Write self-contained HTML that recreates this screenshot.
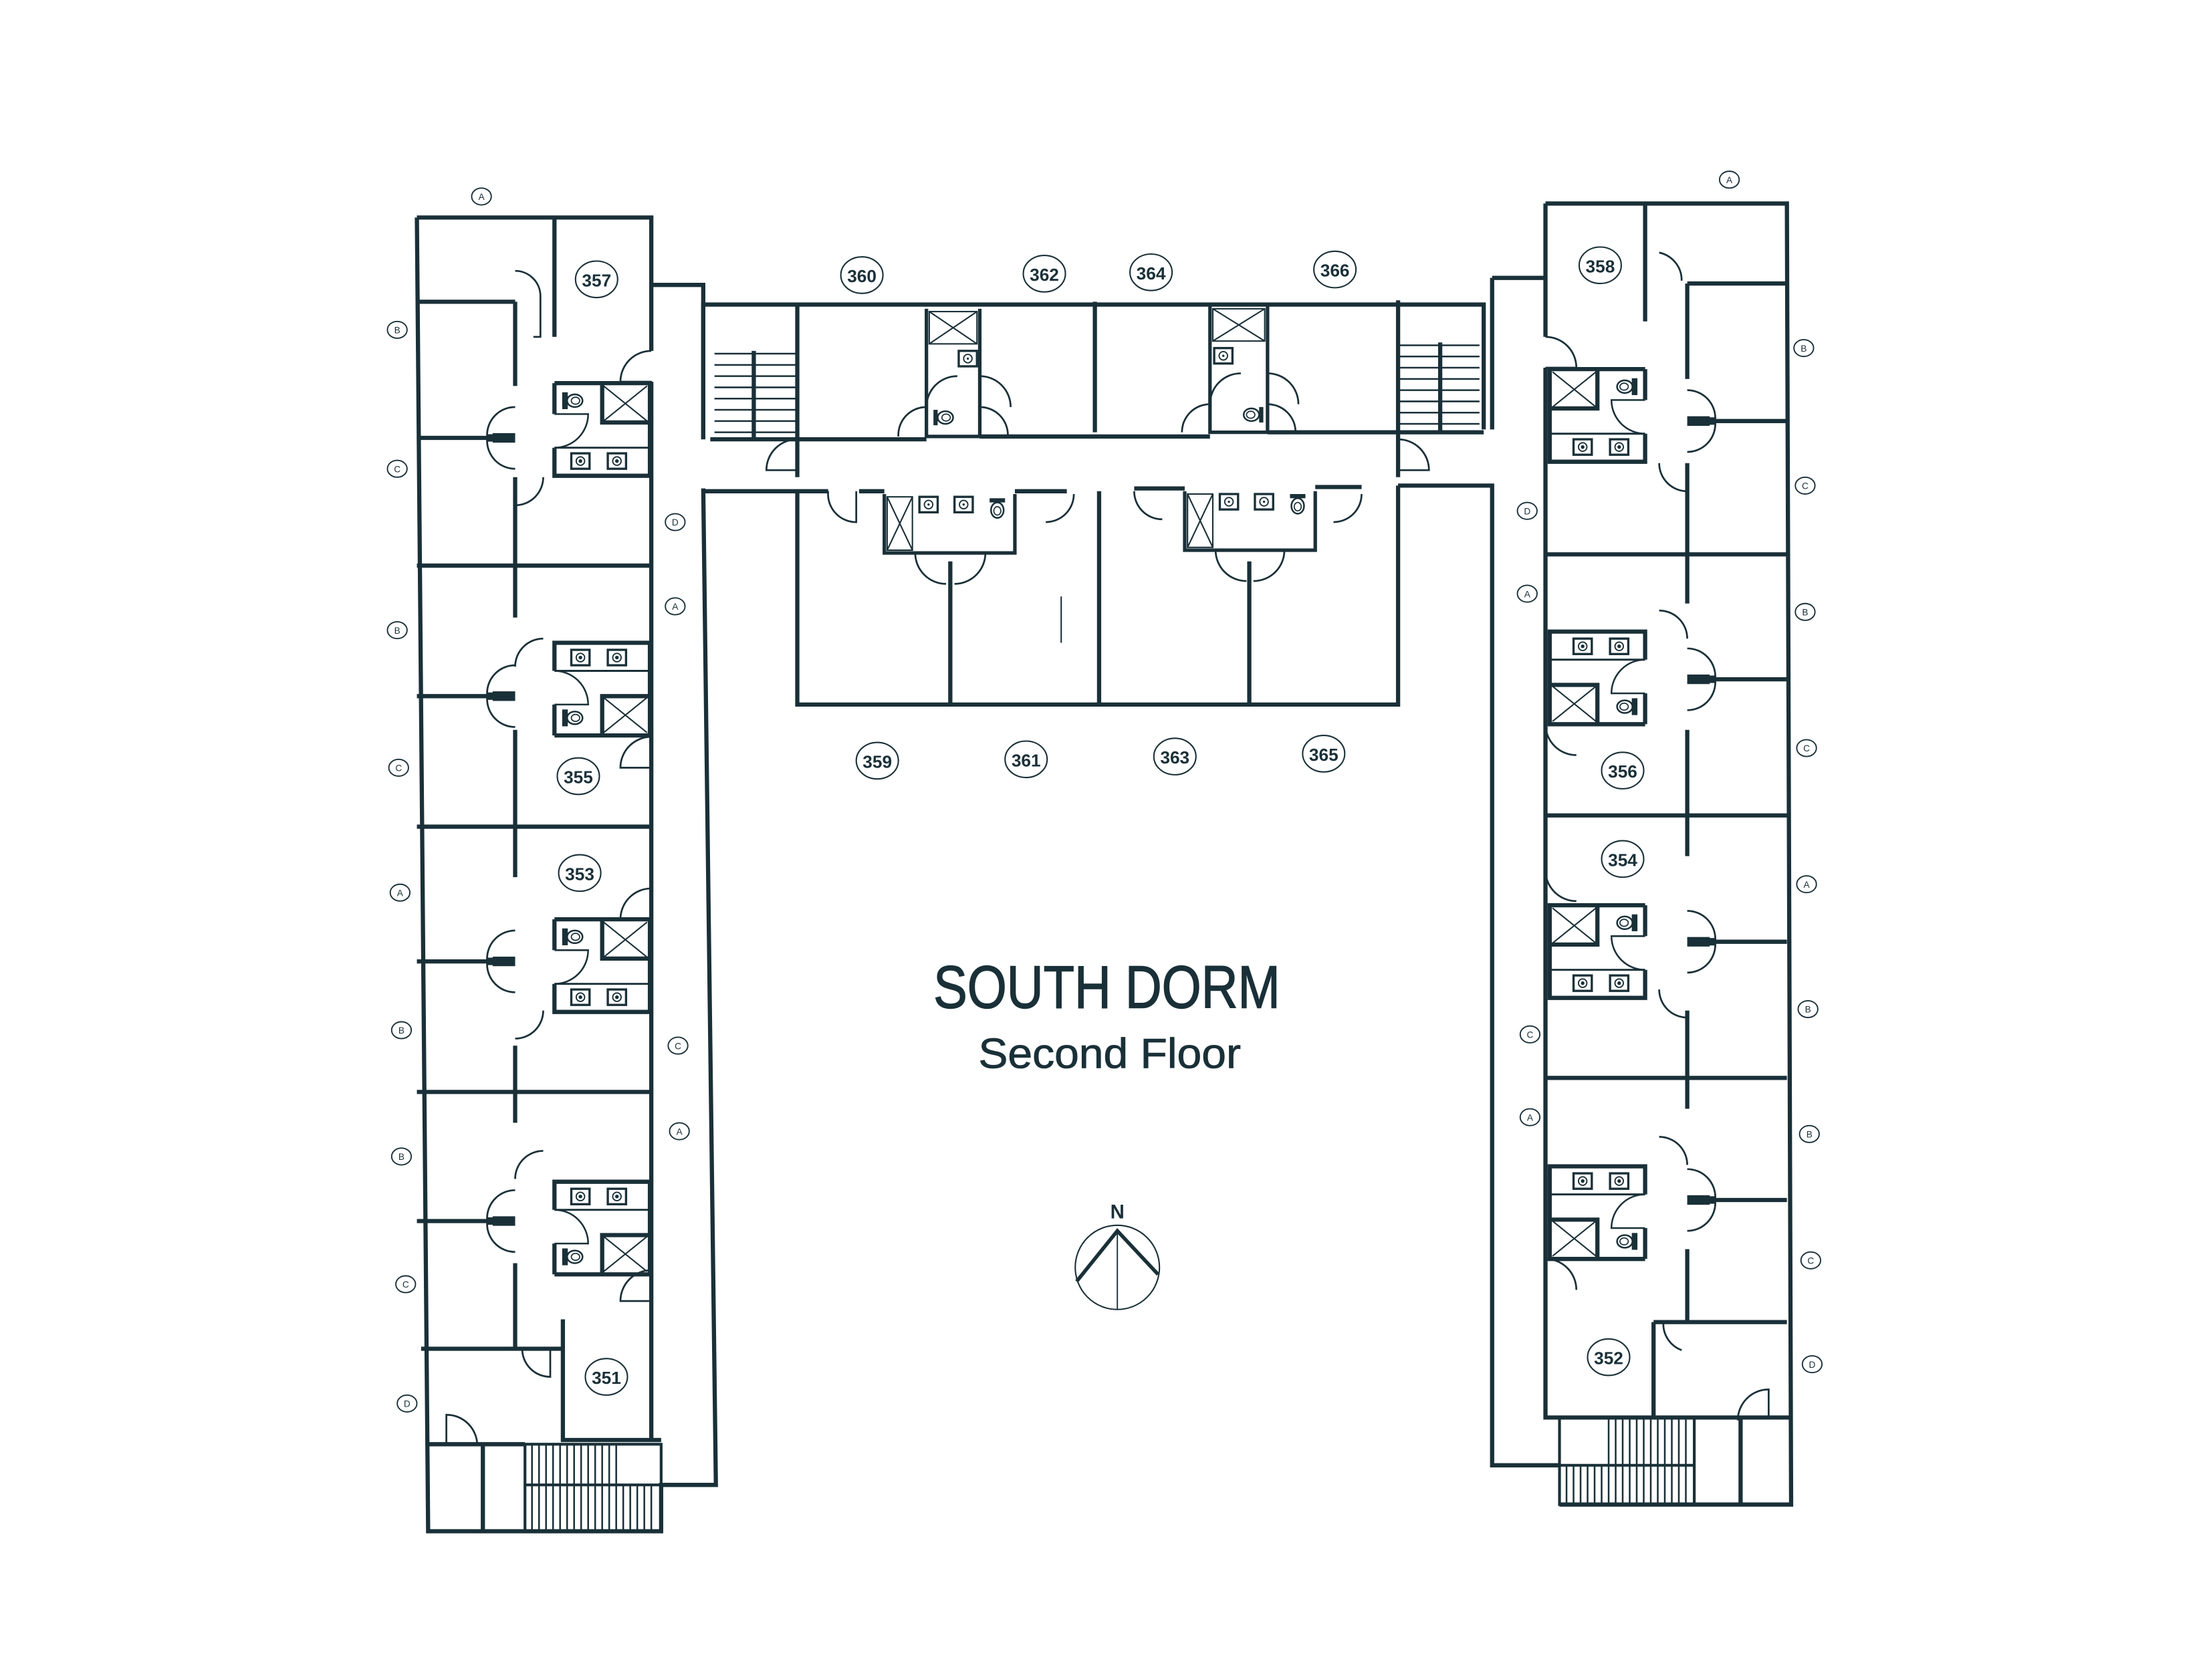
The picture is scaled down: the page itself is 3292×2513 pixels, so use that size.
<!DOCTYPE html>
<html><head><meta charset="utf-8"><style>
html,body{margin:0;padding:0;background:#fff;}
svg{display:block;}
text{font-family:"Liberation Sans",sans-serif;fill:#1a3038;}
</style></head><body>
<svg width="3292" height="2513" viewBox="0 0 1568 1197" preserveAspectRatio="none" xmlns="http://www.w3.org/2000/svg">
<defs>
<g id="sk"><rect x="0" y="0" width="13" height="11" fill="none" stroke="#1a3038" stroke-width="1.6"/><circle cx="6.5" cy="5.5" r="3" fill="none" stroke="#1a3038" stroke-width="0.9"/><circle cx="6.5" cy="5.5" r="0.8" fill="#1a3038"/></g>
<g id="tl"><rect x="0" y="0" width="3" height="11" fill="#1a3038"/><ellipse cx="8.5" cy="5.5" rx="5.5" ry="4.5" fill="none" stroke="#1a3038" stroke-width="1.2"/><ellipse cx="9" cy="5.5" rx="3" ry="2.5" fill="none" stroke="#1a3038" stroke-width="0.8"/></g>
<g id="bath" fill="none" stroke="#1a3038">
  <path d="M0 0H68V66H0V46 M0 0V22" stroke-width="3"/>
  <path d="M0 46H68" stroke-width="1.4"/>
  <path d="M34 0V28H67" stroke-width="3"/>
  <path d="M35 2L66 27 M66 2L35 27" stroke-width="1"/>
  <path d="M0 22H24A24 24 0 0 1 0 46" stroke-width="1.2"/>
  <use href="#tl" x="6" y="7"/>
  <use href="#sk" x="12" y="50"/>
  <use href="#sk" x="38" y="50"/>
</g>
<g id="dd" fill="none" stroke="#1a3038" stroke-width="1.3">
  <path d="M0 -2H-20A20 20 0 0 1 0 -22"/>
  <path d="M0 2H-20A20 20 0 0 0 0 22"/>
  <path d="M0 -2.5H-16M0 2.5H-16" stroke-width="1.8"/>
</g>
</defs>

<g fill="none" stroke="#1a3038" stroke-width="3" stroke-linejoin="miter">
<path d="M297 155H464V250 M464 272V1026 M297 155L305 1091H471V1058H510L501 348"/>
<path d="M464 203H501V313"/>
<path d="M367 215V275 M367 340V440 M367 520V625 M367 745V800 M367 900V961" />
<path d="M297 215H367 M297 312H367 M297 403H464 M297 496H367 M297 589H464 M297 685H367 M297 778H464 M297 870H367 M300 961H401"/>
<path d="M395 155V240"/>
<path d="M401 940V1026H471"/>
<path d="M305 1029H374 M344 1029V1091"/>
<rect x="374" y="1029" width="97" height="62" stroke-width="2"/>
<path d="M374 1058H471" stroke-width="2"/>
<path d="M501 313V217H1057V306 M506 313H660 M698 311H862 M903 308H1057"/>
<path d="M568 217V340 M780 215V308 M996 214V340"/>
<path d="M501 350H590 M612 350H630 M723 350H760 M808 348H844 M937 347H970 M996 346H1063V1044H1111"/>
<path d="M568 350V502H996V346 M677 400V502 M783 350V502 M890 400V502"/>
<path d="M660 220V311H698V220 M862 218V308H903V218" stroke-width="2.5"/>
<path d="M630 352V394H723V352 M844 350V392H937V350" stroke-width="2.5"/>
<path d="M1101 145H1273L1276 1072H1111 M1101 145V240 M1101 262V1010H1178 M1063 198H1101 M1063 198V306"/>
<path d="M1172 145V229 M1202 202V270 M1202 330V430 M1202 520V610 M1202 720V790 M1202 890V942"/>
<path d="M1202 202H1273 M1202 300H1273 M1101 395H1273 M1202 484H1273 M1101 581H1273 M1202 671H1273 M1101 768H1273 M1202 855H1273 M1178 942H1273"/>
<path d="M1178 942V1010H1276 M1240 1010V1072"/>
<rect x="1111" y="1010" width="96" height="62" stroke-width="2"/>
<path d="M1111 1044H1207" stroke-width="2"/>
</g>

<g stroke="#1a3038" stroke-width="1.2">
<path d="M509 252H537M509 260H537M509 268H537M509 276H537M509 284H537M509 292H537M509 300H537M509 308H537 M537 252H568M537 260H568M537 268H568M537 276H568M537 284H568M537 292H568M537 300H568M537 308H568"/>
<path d="M537 250V313" stroke-width="3"/>
<path d="M996 246H1026M996 254H1026M996 262H1026M996 270H1026M996 278H1026M996 286H1026M996 294H1026M996 302H1026 M1026 246H1054M1026 254H1054M1026 262H1054M1026 270H1054M1026 278H1054M1026 286H1054M1026 294H1054M1026 302H1054"/>
<path d="M1026 244V308" stroke-width="3"/>
<path d="M379 1029V1091M384 1029V1091M389 1029V1091M394 1029V1091M399 1029V1091M404 1029V1091M409 1029V1091M414 1029V1091M419 1029V1091M424 1029V1091M429 1029V1091M434 1029V1091M439 1029V1091M444 1058V1091M449 1058V1091M454 1058V1091M459 1058V1091M464 1058V1091"/>
<path d="M1116 1044V1072M1121 1044V1072M1126 1044V1072M1131 1044V1072M1136 1044V1072M1141 1044V1072M1146 1010V1072M1151 1010V1072M1156 1010V1072M1161 1010V1072M1166 1010V1072M1171 1010V1072M1176 1010V1072M1181 1010V1072M1186 1010V1072M1191 1010V1072M1196 1010V1072M1201 1010V1072"/>
</g>

<use href="#bath" transform="translate(395,273)"/>
<use href="#bath" transform="translate(395,524) scale(1,-1)"/>
<use href="#bath" transform="translate(395,655)"/>
<use href="#bath" transform="translate(395,908) scale(1,-1)"/>
<use href="#bath" transform="translate(1172,263) scale(-1,1)"/>
<use href="#bath" transform="translate(1172,516) scale(-1,1) scale(1,-1)"/>
<use href="#bath" transform="translate(1172,645) scale(-1,1)"/>
<use href="#bath" transform="translate(1172,897) scale(-1,1) scale(1,-1)"/>

<use href="#dd" transform="translate(367,312)"/>
<use href="#dd" transform="translate(367,496)"/>
<use href="#dd" transform="translate(367,685)"/>
<use href="#dd" transform="translate(367,870)"/>
<use href="#dd" transform="translate(1202,300) scale(-1,1)"/>
<use href="#dd" transform="translate(1202,484) scale(-1,1)"/>
<use href="#dd" transform="translate(1202,671) scale(-1,1)"/>
<use href="#dd" transform="translate(1202,855) scale(-1,1)"/>

<g fill="none" stroke="#1a3038" stroke-width="1.3">
<path d="M464 250A22 22 0 0 0 442 272H464"/>
<path d="M367 193A18 18 0 0 1 385 211V240H380"/>
<path d="M367 360A20 20 0 0 0 387 340"/>
<path d="M387 455A20 20 0 0 0 367 475"/>
<path d="M464 525A22 22 0 0 0 442 547H464"/>
<path d="M464 633A22 22 0 0 0 442 655H464"/>
<path d="M367 740A20 20 0 0 0 387 720"/>
<path d="M387 820A20 20 0 0 0 367 840"/>
<path d="M464 905A22 22 0 0 0 442 927H464"/>
<path d="M372 961A20 20 0 0 0 392 981V961"/>
<path d="M318 1029V1008A22 22 0 0 1 340 1030"/>
<path d="M1101 240A22 22 0 0 1 1123 262H1101"/>
<path d="M1182 180A20 20 0 0 1 1198 200"/>
<path d="M1202 350A20 20 0 0 1 1182 330"/>
<path d="M1182 435A20 20 0 0 1 1202 455"/>
<path d="M1101 516A22 22 0 0 0 1123 538"/>
<path d="M1101 620A22 22 0 0 0 1123 642"/>
<path d="M1202 725A20 20 0 0 1 1182 705"/>
<path d="M1182 810A20 20 0 0 1 1202 830"/>
<path d="M1101 897A22 22 0 0 1 1123 919"/>
<path d="M1185 942A20 20 0 0 0 1198 962"/>
<path d="M1260 1010V990A22 22 0 0 0 1238 1012"/>
<path d="M568 313A22 22 0 0 0 546 335H568"/>
<path d="M996 313A22 22 0 0 1 1018 335H996"/>
<path d="M590 350A20 20 0 0 0 610 372V350"/>
<path d="M745 372A20 20 0 0 0 765 352"/>
<path d="M808 350A20 20 0 0 0 828 370"/>
<path d="M950 372A20 20 0 0 0 970 352"/>
<path d="M660 290A22 22 0 0 1 682 268 M698 268A22 22 0 0 1 720 290 M640 311A20 20 0 0 1 660 290 M718 311A20 20 0 0 0 698 290"/>
<path d="M862 288A22 22 0 0 1 884 266 M903 266A22 22 0 0 1 925 288 M842 308A20 20 0 0 1 862 288 M923 308A20 20 0 0 0 903 288"/>
<path d="M652 394A22 22 0 0 0 674 416 M680 416A22 22 0 0 0 702 394"/>
<path d="M866 392A22 22 0 0 0 888 414 M893 414A22 22 0 0 0 915 392"/>
<path d="M756 425V458" stroke-width="1"/>
</g>
<g stroke="#1a3038" stroke-width="1"><path d="M662 222L696 245M696 222L662 245 M864 220L901 243M901 220L864 243 M632 354L650 392M650 354L632 392 M846 352L864 390M864 352L846 390"/>
<rect x="662" y="222" width="34" height="23" fill="none"/><rect x="864" y="220" width="37" height="23" fill="none"/>
<rect x="632" y="354" width="18" height="38" fill="none"/><rect x="846" y="352" width="18" height="38" fill="none"/></g>
<use href="#sk" x="655" y="354"/><use href="#sk" x="680" y="354"/><use href="#sk" x="869" y="352"/><use href="#sk" x="894" y="352"/>
<use href="#sk" x="683" y="250"/><use href="#sk" x="865" y="248"/>
<use href="#tl" transform="translate(665,292)"/><use href="#tl" transform="translate(900,290) scale(-1,1)"/>
<use href="#tl" transform="translate(705,355) rotate(90) translate(0,-11)"/><use href="#tl" transform="translate(919,352) rotate(90) translate(0,-11)"/>

<g fill="none" stroke="#1a3038" stroke-width="1">
<ellipse cx="425" cy="199" rx="15" ry="13"/><ellipse cx="614" cy="196" rx="15" ry="13"/><ellipse cx="744" cy="195" rx="15" ry="13"/><ellipse cx="820" cy="194" rx="15" ry="13"/><ellipse cx="951" cy="192" rx="15" ry="13"/><ellipse cx="1140" cy="189" rx="15" ry="13"/>
<ellipse cx="412" cy="553" rx="15" ry="13"/><ellipse cx="413" cy="622" rx="15" ry="13"/><ellipse cx="432" cy="981" rx="15" ry="13"/>
<ellipse cx="625" cy="542" rx="15" ry="13"/><ellipse cx="731" cy="541" rx="15" ry="13"/><ellipse cx="837" cy="539" rx="15" ry="13"/><ellipse cx="943" cy="537" rx="15" ry="13"/>
<ellipse cx="1156" cy="549" rx="15" ry="13"/><ellipse cx="1156" cy="612" rx="15" ry="13"/><ellipse cx="1146" cy="967" rx="15" ry="13"/>
</g>
<g font-size="12.5" text-anchor="middle" font-weight="bold">
<text x="425" y="204">357</text><text x="614" y="201">360</text><text x="744" y="200">362</text><text x="820" y="199">364</text><text x="951" y="197">366</text><text x="1140" y="194">358</text>
<text x="412" y="558">355</text><text x="413" y="627">353</text><text x="432" y="986">351</text>
<text x="625" y="547">359</text><text x="731" y="546">361</text><text x="837" y="544">363</text><text x="943" y="542">365</text>
<text x="1156" y="554">356</text><text x="1156" y="617">354</text><text x="1146" y="972">352</text>
</g>
<g fill="none" stroke="#1a3038" stroke-width="0.9">
<ellipse cx="343" cy="140" rx="7" ry="6"/><ellipse cx="283" cy="235" rx="7" ry="6"/><ellipse cx="283" cy="334" rx="7" ry="6"/><ellipse cx="481" cy="372" rx="7" ry="6"/><ellipse cx="283" cy="449" rx="7" ry="6"/><ellipse cx="481" cy="432" rx="7" ry="6"/><ellipse cx="284" cy="547" rx="7" ry="6"/><ellipse cx="285" cy="636" rx="7" ry="6"/><ellipse cx="286" cy="734" rx="7" ry="6"/><ellipse cx="483" cy="745" rx="7" ry="6"/><ellipse cx="484" cy="806" rx="7" ry="6"/><ellipse cx="286" cy="824" rx="7" ry="6"/><ellipse cx="289" cy="915" rx="7" ry="6"/><ellipse cx="290" cy="1000" rx="7" ry="6"/>
<ellipse cx="1232" cy="128" rx="7" ry="6"/><ellipse cx="1285" cy="248" rx="7" ry="6"/><ellipse cx="1286" cy="346" rx="7" ry="6"/><ellipse cx="1088" cy="364" rx="7" ry="6"/><ellipse cx="1088" cy="423" rx="7" ry="6"/><ellipse cx="1286" cy="436" rx="7" ry="6"/><ellipse cx="1287" cy="533" rx="7" ry="6"/><ellipse cx="1287" cy="630" rx="7" ry="6"/><ellipse cx="1288" cy="719" rx="7" ry="6"/><ellipse cx="1090" cy="737" rx="7" ry="6"/><ellipse cx="1090" cy="796" rx="7" ry="6"/><ellipse cx="1289" cy="808" rx="7" ry="6"/><ellipse cx="1290" cy="898" rx="7" ry="6"/><ellipse cx="1291" cy="972" rx="7" ry="6"/>
</g>
<g font-size="6.5" text-anchor="middle">
<text x="343" y="142.5">A</text><text x="283" y="237.5">B</text><text x="283" y="336.5">C</text><text x="481" y="374.5">D</text><text x="283" y="451.5">B</text><text x="481" y="434.5">A</text><text x="284" y="549.5">C</text><text x="285" y="638.5">A</text><text x="286" y="736.5">B</text><text x="483" y="747.5">C</text><text x="484" y="808.5">A</text><text x="286" y="826.5">B</text><text x="289" y="917.5">C</text><text x="290" y="1002.5">D</text>
<text x="1232" y="130.5">A</text><text x="1285" y="250.5">B</text><text x="1286" y="348.5">C</text><text x="1088" y="366.5">D</text><text x="1088" y="425.5">A</text><text x="1286" y="438.5">B</text><text x="1287" y="535.5">C</text><text x="1287" y="632.5">A</text><text x="1288" y="721.5">B</text><text x="1090" y="739.5">C</text><text x="1090" y="798.5">A</text><text x="1289" y="810.5">B</text><text x="1290" y="900.5">C</text><text x="1291" y="974.5">D</text>
</g>

<text x="665" y="718" font-size="43" textLength="247" lengthAdjust="spacingAndGlyphs" stroke="#1a3038" stroke-width="0.7">SOUTH DORM</text>
<text x="697" y="761" font-size="30" textLength="187" lengthAdjust="spacingAndGlyphs" stroke="#1a3038" stroke-width="0.4">Second Floor</text>

<circle cx="796" cy="903" r="30" fill="none" stroke="#1a3038" stroke-width="1"/>
<path d="M767 913L796 877L825 908" fill="none" stroke="#1a3038" stroke-width="2.6"/>
<path d="M796 877V933" stroke="#1a3038" stroke-width="0.9"/>
<text x="796" y="868" font-size="14" font-weight="bold" text-anchor="middle">N</text>
</svg>
</body></html>
